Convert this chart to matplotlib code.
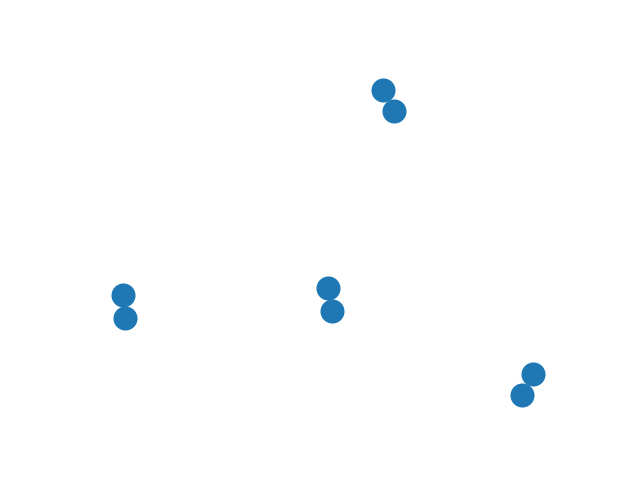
import matplotlib
matplotlib.use("Agg")
import matplotlib.pyplot as plt

# node positions (layout coordinates)
node_x = [0.611, 0.633, 0.087, 0.091, 0.500, 0.508, 0.913, 0.891]
node_y = [0.912, 0.856, 0.358, 0.296, 0.377, 0.314, 0.144, 0.087]

fig, ax = plt.subplots(figsize=(6.4, 4.8), dpi=100)
ax.scatter(node_x, node_y, s=300, c="#1f78b4", linewidths=0)
ax.set_xlim(0, 1)
ax.set_ylim(0, 1)
ax.set_axis_off()
fig.savefig("out.png", dpi=100)
